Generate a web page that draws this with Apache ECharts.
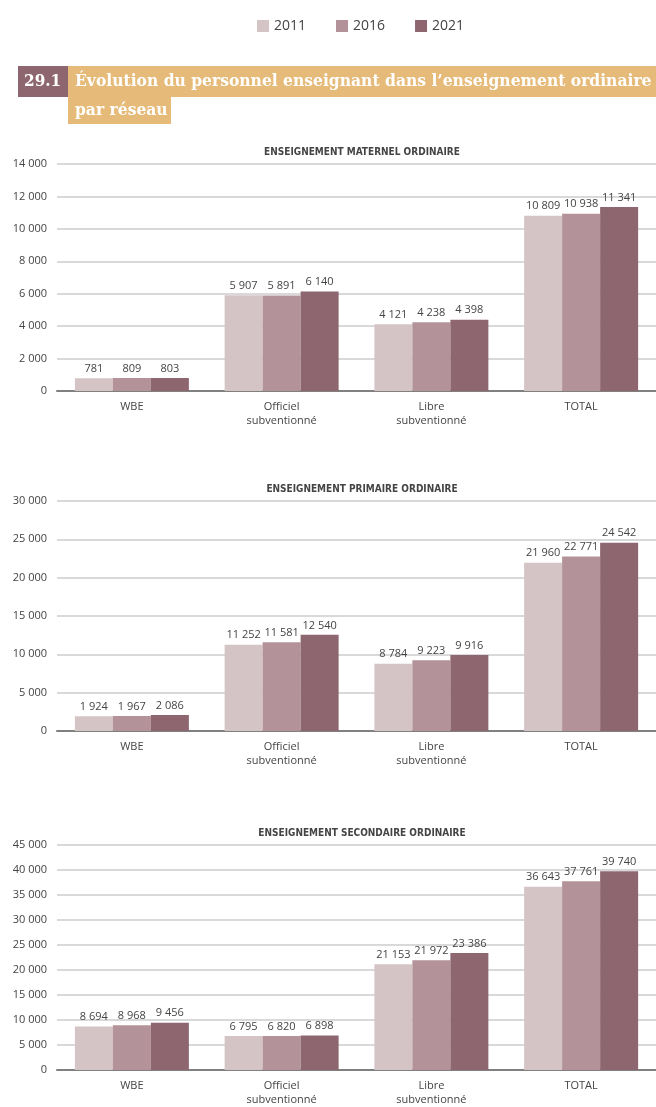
<!DOCTYPE html>
<html lang="fr">
<head>
<meta charset="UTF-8">
<title>29.1</title>
<script src="https://cdn.jsdelivr.net/npm/echarts@6/dist/echarts.min.js"></script>
<style>
  html, body { margin: 0; padding: 0; background: #fff; }
  #chart { width: 656px; height: 1107px; }
</style>
</head>
<body>
<div id="chart"></div>
<script>
  var years = ['2011', '2016', '2021'];
  var categories = ['WBE', 'Officiel\nsubventionné', 'Libre\nsubventionné', 'TOTAL'];
  var panelTitles = [
    'ENSEIGNEMENT MATERNEL ORDINAIRE',
    'ENSEIGNEMENT PRIMAIRE ORDINAIRE',
    'ENSEIGNEMENT SECONDAIRE ORDINAIRE'
  ];
  // values per panel, per year (WBE, Officiel, Libre, TOTAL)
  var maternel = [
    [781, 5907, 4121, 10809],
    [809, 5891, 4238, 10938],
    [803, 6140, 4398, 11341]
  ];
  var primaire = [
    [1924, 11252, 8784, 21960],
    [1967, 11581, 9223, 22771],
    [2086, 12540, 9916, 24542]
  ];
  var secondaire = [
    [8694, 6795, 21153, 36643],
    [8968, 6820, 21972, 37761],
    [9456, 6898, 23386, 39740]
  ];
  var axisMax = [14000, 30000, 45000];
  var axisStep = [2000, 5000, 5000];

  var colors = ['#d4c4c6', '#b39299', '#8e6670'];
  var panels = [maternel, primaire, secondaire];
  var gridTops = [164, 501, 845];
  var gridHeights = [227, 230, 227];
  var font = '"Open Sans", "Noto Sans", sans-serif';

  function fmt(v) {
    return String(v).replace(/\B(?=(\d{3})+(?!\d))/g, ' ');
  }

  var grids = [], xAxes = [], yAxes = [], series = [], titles = [];
  panels.forEach(function (panel, p) {
    grids.push({ left: 57, width: 604, top: gridTops[p], height: gridHeights[p] });
    titles.push({
      text: panelTitles[p],
      left: 357, top: gridTops[p] - 22, textAlign: 'center',
      textStyle: { fontFamily: '"DejaVu Sans Condensed", sans-serif', fontSize: 10, fontWeight: 'bold', color: '#444' }
    });
    xAxes.push({
      type: 'category', gridIndex: p, data: categories,
      axisLine: { lineStyle: { color: '#808080', width: 2 } },
      axisTick: { show: false },
      axisLabel: { color: '#444', fontSize: 11, fontFamily: font, lineHeight: 14, margin: 9 }
    });
    yAxes.push({
      type: 'value', gridIndex: p, min: 0, max: axisMax[p], interval: axisStep[p],
      axisLine: { show: false }, axisTick: { show: false },
      axisLabel: { color: '#444', fontSize: 11, fontFamily: font, margin: 10, formatter: fmt },
      splitLine: { lineStyle: { color: '#d9d9d9', width: 2 } }
    });
    panel.forEach(function (vals, s) {
      series.push({
        name: years[s], type: 'bar', xAxisIndex: p, yAxisIndex: p,
        data: vals, barWidth: 38, barGap: '0%',
        itemStyle: { color: colors[s] },
        label: {
          show: true, position: 'top', distance: 4, color: '#444',
          fontSize: 11, fontFamily: font,
          formatter: function (d) { return fmt(d.value); }
        }
      });
    });
  });

  var chart = echarts.init(document.getElementById('chart'));
  chart.setOption({
    animation: false,
    title: titles,
    legend: {
      data: years, top: 14, left: 252, itemWidth: 12, itemHeight: 12, itemGap: 30,
      icon: 'rect',
      textStyle: { color: '#444', fontSize: 14, fontFamily: font }
    },
    grid: grids, xAxis: xAxes, yAxis: yAxes, series: series,
    graphic: [
      { type: 'rect', shape: { x: 18, y: 66, width: 50, height: 31 }, style: { fill: '#8e6670' } },
      { type: 'rect', shape: { x: 68, y: 66, width: 588, height: 31 }, style: { fill: '#e6bb79' } },
      { type: 'rect', shape: { x: 68, y: 97, width: 103, height: 27 }, style: { fill: '#e6bb79' } },
      { type: 'text', x: 24, y: 82, style: { text: '29.1', fill: '#fff', font: 'bold 17px "DejaVu Serif Condensed", serif', textVerticalAlign: 'middle' } },
      { type: 'text', x: 75, y: 82, style: { text: 'Évolution du personnel enseignant dans l’enseignement ordinaire', fill: '#fff', font: 'bold 17.3px "DejaVu Serif Condensed", serif', textVerticalAlign: 'middle' } },
      { type: 'text', x: 75, y: 111, style: { text: 'par réseau', fill: '#fff', font: 'bold 17.3px "DejaVu Serif Condensed", serif', textVerticalAlign: 'middle' } }
    ]
  });
</script>
</body>
</html>
